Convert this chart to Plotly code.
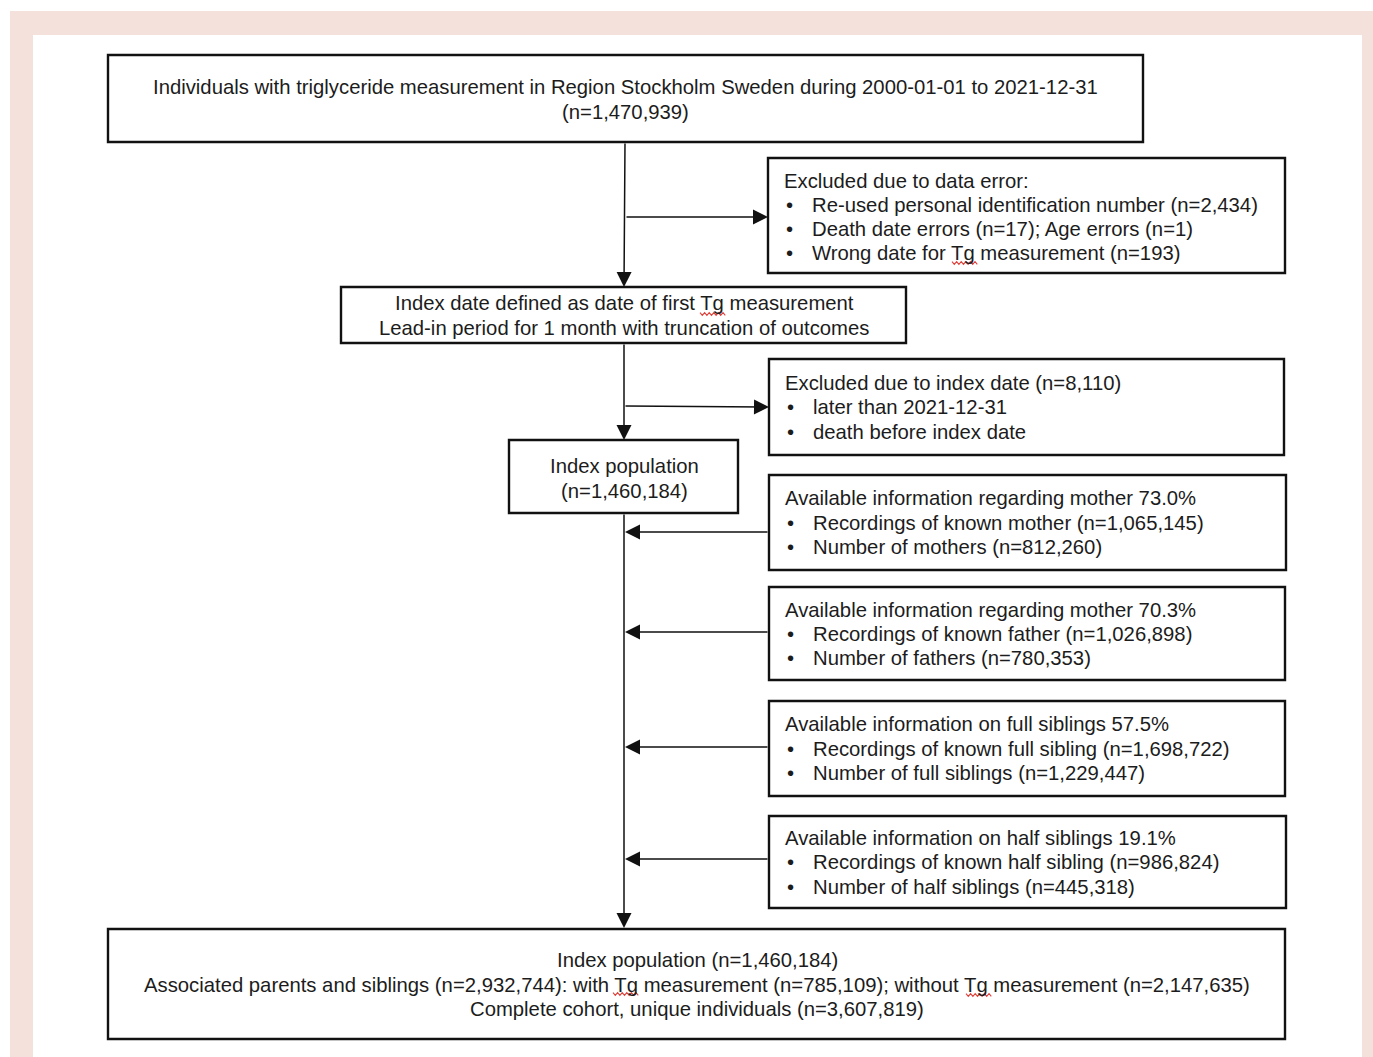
import plotly.graph_objects as go

# ---------------- data (texts) ----------------
top_lines = ["Individuals with triglyceride measurement in Region Stockholm Sweden during 2000-01-01 to 2021-12-31",
             "(n=1,470,939)"]
excl1_title = "Excluded due to data error:"
excl1_items = ["Re-used personal identification number (n=2,434)",
               "Death date errors (n=17); Age errors (n=1)",
               "Wrong date for Tg measurement (n=193)"]
index_date_lines = ["Index date defined as date of first Tg measurement",
                    "Lead-in period for 1 month with truncation of outcomes"]
excl2_title = "Excluded due to index date (n=8,110)"
excl2_items = ["later than 2021-12-31", "death before index date"]
index_pop_lines = ["Index population", "(n=1,460,184)"]
mother_title = "Available information regarding mother 73.0%"
mother_items = ["Recordings of known mother (n=1,065,145)", "Number of mothers (n=812,260)"]
father_title = "Available information regarding mother 70.3%"
father_items = ["Recordings of known father (n=1,026,898)", "Number of fathers (n=780,353)"]
full_title = "Available information on full siblings 57.5%"
full_items = ["Recordings of known full sibling (n=1,698,722)", "Number of full siblings (n=1,229,447)"]
half_title = "Available information on half siblings 19.1%"
half_items = ["Recordings of known half sibling (n=986,824)", "Number of half siblings (n=445,318)"]
bottom_lines = ["Index population (n=1,460,184)",
                "Associated parents and siblings (n=2,932,744): with Tg measurement (n=785,109); without Tg measurement (n=2,147,635)",
                "Complete cohort, unique individuals (n=3,607,819)"]

# ---------------- layout helpers ----------------
W, H = 1373, 1057
FONT = "Liberation Sans, Arial, sans-serif"
FS = 20.3
TXT = "#1c1c1c"
fig = go.Figure()
shapes = []
annotations = []

def box(x0, y0, x1, y1):
    shapes.append(dict(type="rect", xref="x", yref="y", x0=x0, y0=y0, x1=x1, y1=y1,
                       line=dict(color="#111111", width=2.4), fillcolor="white", layer="above"))

def text(x, y, s, anchor="center"):
    annotations.append(dict(x=x, y=y, xref="x", yref="y", text=s, showarrow=False,
                            xanchor=anchor, yanchor="middle",
                            font=dict(family=FONT, size=FS, color=TXT)))

def centered(cx, ys, lines):
    for y, s in zip(ys, lines):
        text(cx, y, s)

def listbox(ys, title, items, xl=784):
    text(xl - 2, ys[0], title, "left")
    for y, s in zip(ys[1:], items):
        text(xl + 5, y, "•", "center")
        text(xl + 26, y, s, "left")

def arrow(x0, y0, x1, y1):
    annotations.append(dict(x=x1, y=y1, ax=x0, ay=y0, xref="x", yref="y", axref="x", ayref="y",
                            text="", showarrow=True, arrowhead=2, arrowsize=2.0, arrowwidth=1.5,
                            arrowcolor="#111111", standoff=0, startstandoff=0))

def squiggle(x0, x1, y, step=2.3, amp=1.4):
    pts = []
    x, k = x0, 0
    while x <= x1:
        pts.append((x, y + (amp if k % 2 else -amp)))
        x += step
        k += 1
    path = "M " + " L ".join(f"{px:.1f},{py:.1f}" for px, py in pts)
    shapes.append(dict(type="path", xref="x", yref="y", path=path,
                       line=dict(color="#e0403a", width=1.1), layer="above"))

# background frame
shapes.append(dict(type="rect", xref="x", yref="y", x0=10, y0=11, x1=1380, y1=1070,
                   line=dict(width=0), fillcolor="#f5e1dc", layer="below"))
shapes.append(dict(type="rect", xref="x", yref="y", x0=33, y0=35, x1=1362, y1=1070,
                   line=dict(width=0), fillcolor="white", layer="below"))

# connectors
arrow(625, 142, 624, 287)
arrow(625, 217, 768, 217)
arrow(624, 343, 624, 440)
arrow(624, 406, 769, 407)
arrow(624, 513, 624, 928)
for yy in (532, 632, 747, 859):
    arrow(769, yy, 625, yy)

# boxes
box(108, 55, 1143, 142)
centered(625, [87, 112], top_lines)

box(768, 158, 1285, 273)
listbox([181, 205, 229, 253], excl1_title, excl1_items)

box(341, 287, 906, 343)
centered(624, [303, 328], index_date_lines)

box(769, 359, 1284, 455)
listbox([383, 407, 432], excl2_title, excl2_items, xl=785)

box(509, 440, 738, 513)
centered(624, [466, 491], index_pop_lines)

box(769, 475, 1286, 570)
listbox([498, 523, 547], mother_title, mother_items, xl=785)

box(769, 587, 1285, 680)
listbox([610, 634, 658], father_title, father_items, xl=785)

box(769, 701, 1285, 796)
listbox([724, 749, 773], full_title, full_items, xl=785)

box(769, 816, 1286, 908)
listbox([838, 862, 887], half_title, half_items, xl=785)

box(108, 929, 1285, 1039)
centered(697, [960, 985, 1009], bottom_lines)

# spell-check marks under "Tg"
squiggle(700, 727, 314)
squiggle(952, 979, 263)
squiggle(613, 640, 994)
squiggle(966, 993, 995)

fig.update_layout(
    width=W, height=H, margin=dict(l=0, r=0, t=0, b=0),
    paper_bgcolor="white", plot_bgcolor="white",
    xaxis=dict(range=[0, W], visible=False, fixedrange=True),
    yaxis=dict(range=[H, 0], visible=False, fixedrange=True),
    shapes=shapes, annotations=annotations, showlegend=False,
)
fig.write_html("out.html", config={"displayModeBar": False},
               post_script="document.body.style.margin='0';document.body.style.overflow='hidden';")
